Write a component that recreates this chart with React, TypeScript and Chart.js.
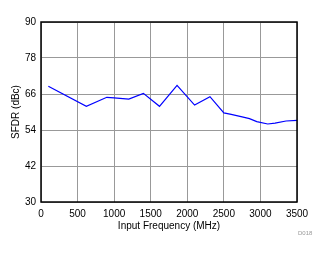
import React, { useEffect, useRef } from "react";
import { Chart, registerables } from "chart.js";

Chart.register(...registerables);

const freqMHz = [100, 620, 900, 1000, 1200, 1400, 1620, 1860, 2100, 2310, 2500, 2600, 2750, 2850, 2950, 3100, 3200, 3350, 3500];
const sfdrDbc = [68.6, 61.9, 64.9, 64.7, 64.3, 66.2, 61.9, 68.9, 62.3, 65.1, 59.7, 59.2, 58.4, 57.8, 56.8, 56.0, 56.3, 57.0, 57.2];
const xTicks = [0, 500, 1000, 1500, 2000, 2500, 3000, 3500];
const yTicks = [30, 42, 54, 66, 78, 90];

const FONT = "'Liberation Sans', Arial, sans-serif";

const borderPlugin = {
  id: "plotBorder",
  afterDraw(chart: any) {
    const { ctx, chartArea } = chart;
    ctx.save();
    ctx.strokeStyle = "#000";
    ctx.lineWidth = 1.5;
    ctx.strokeRect(chartArea.left, chartArea.top, chartArea.right - chartArea.left, chartArea.bottom - chartArea.top);
    ctx.fillStyle = "#999";
    ctx.font = `6px ${FONT}`;
    ctx.textAlign = "left";
    ctx.textBaseline = "middle";
    ctx.fillText("D018", 298, 233);
    ctx.restore();
  },
};

export default function App() {
  const ref = useRef<HTMLCanvasElement>(null);
  useEffect(() => {
    const chart = new Chart(ref.current!, {
      type: "line",
      data: {
        datasets: [
          {
            data: freqMHz.map((x, i) => ({ x, y: sfdrDbc[i] })),
            borderColor: "#0000ff",
            borderWidth: 1.2,
            pointRadius: 0,
            tension: 0,
            fill: false,
          },
        ],
      },
      options: {
        animation: false,
        responsive: false,
        devicePixelRatio: 1,
        layout: { padding: { left: 10, right: 29, top: 22, bottom: 22 } },
        plugins: { legend: { display: false }, tooltip: { enabled: false } },
        scales: {
          x: {
            type: "linear",
            min: 0,
            max: 3500,
            afterBuildTicks: (s: any) => { s.ticks = xTicks.map((v) => ({ value: v })); },
            afterFit: (s: any) => { s.height = 30; },
            grid: { color: "#999", lineWidth: 1, drawTicks: false },
            border: { display: false },
            ticks: { color: "#000", font: { family: FONT, size: 10 }, padding: 6, maxRotation: 0, callback: (v: any) => String(v) },
            title: { display: true, text: "Input Frequency (MHz)", color: "#000", font: { family: FONT, size: 10 }, padding: { top: 1, bottom: 0 } },
          },
          y: {
            min: 30,
            max: 90,
            afterBuildTicks: (s: any) => { s.ticks = yTicks.map((v) => ({ value: v })); },
            afterFit: (s: any) => { s.width = 31; },
            grid: { color: "#999", lineWidth: 1, drawTicks: false },
            border: { display: false },
            ticks: { color: "#000", font: { family: FONT, size: 10 }, padding: 5, callback: (v: any) => String(v) },
            title: { display: true, text: "SFDR (dBc)", color: "#000", font: { family: FONT, size: 10 }, padding: { top: 0, bottom: 0 } },
          },
        },
      },
      plugins: [borderPlugin],
    });
    return () => chart.destroy();
  }, []);
  return (
    <div style={{ position: "fixed", left: 0, top: 0, width: 326, height: 254, background: "#fff" }}>
      <canvas ref={ref} width={326} height={254} style={{ width: 326, height: 254 }} />
    </div>
  );
}
